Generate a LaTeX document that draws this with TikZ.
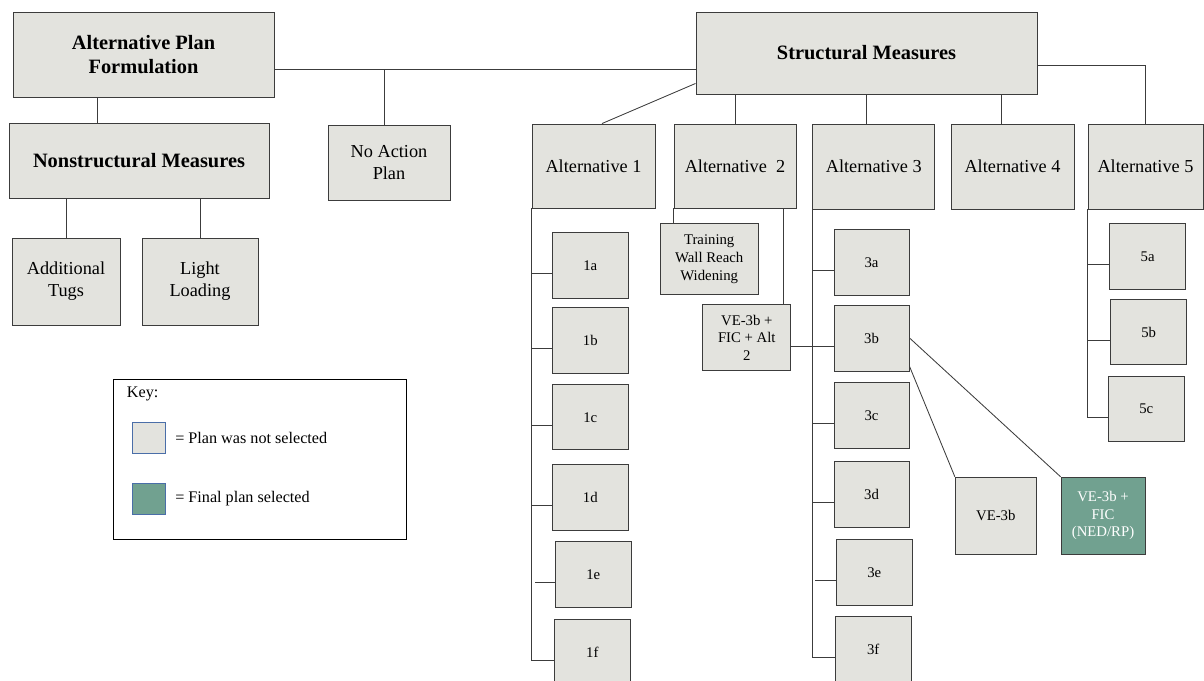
\documentclass[tikz,border=0pt]{standalone}
\usepackage{fontspec}
\setmainfont{Liberation Serif}
\usetikzlibrary{calc}

\definecolor{plangray}{RGB}{227,227,222}
\definecolor{plangreen}{RGB}{113,161,144}
\definecolor{edge}{RGB}{60,60,60}
\definecolor{keyblue}{RGB}{74,110,168}

\begin{document}
\begin{tikzpicture}[x=0.025cm, y=-0.025cm,
	sz/.style 2 args={minimum width=#1*0.025cm, minimum height=#2*0.025cm},
	plan/.style={draw=edge, fill=plangray, line width=0.65pt, inner sep=1pt, align=center, font=\fontsize{13}{15.5}\selectfont},
	head/.style={plan, font=\fontsize{14.5}{17.5}\selectfont\bfseries},
	sub/.style={plan, font=\fontsize{10.5}{12.6}\selectfont},
	chosen/.style={sub, fill=plangreen, text=white},
	link/.style={draw=edge, line width=0.6pt},
	keytext/.style={anchor=west, inner sep=0pt, font=\fontsize{11.5}{13}\selectfont}]
	\useasboundingbox (0,0) rectangle (1204,681);
	\clip (0,0) rectangle (1204,681);

		\draw (143.5,54.5) node[head, sz={261}{85}] (apf) {Alternative Plan\\Formulation};
		\draw (866.5,53) node[head, sz={341}{82}] (sm) {Structural Measures};
		\draw (139,160.5) node[head, sz={260}{75}] (nsm) {Nonstructural Measures};
		\draw (389,162.5) node[plan, sz={122}{75}] (noact) {No Action\\Plan};
		\draw (66,281.5) node[plan, sz={108}{87}] (tugs) {Additional\\Tugs};
		\draw (200,281.5) node[plan, sz={116}{87}] (light) {Light\\Loading};

		\draw (593.5,166) node[plan, sz={123}{84}] (alt1) {Alternative 1};
		\draw (735,166) node[plan, sz={122}{84}] (alt2) {Alternative~~2};
		\draw (873.8,166.5) node[plan, sz={122}{85}] (alt3) {Alternative 3};
		\draw (1012.5,166.5) node[plan, sz={123}{85}] (alt4) {Alternative 4};
		\draw (1145.5,166.5) node[plan, sz={115}{85}] (alt5) {Alternative 5};

		\draw (590.3,265.5) node[sub, sz={76}{66}] (c1a) {1a};
		\draw (590.3,340.3) node[sub, sz={76}{66}] (c1b) {1b};
		\draw (590.3,417.3) node[sub, sz={76}{65}] (c1c) {1c};
		\draw (590.3,497.8) node[sub, sz={76}{66}] (c1d) {1d};
		\draw (593.3,574.7) node[sub, sz={76}{66}] (c1e) {1e};
		\draw (592.3,652) node[sub, sz={76}{66}] (c1f) {1f};

		\draw (709.2,259) node[sub, sz={98}{71}] (train) {Training\\Wall Reach\\Widening};
		\draw (746.8,337.8) node[sub, sz={88}{66}] (ve2) {VE-3b +\\FIC + Alt\\2};

		\draw (871.5,262.5) node[sub, sz={75}{66}] (c3a) {3a};
		\draw (871.6,338) node[sub, sz={75}{66}] (c3b) {3b};
		\draw (871.5,415.2) node[sub, sz={75}{66}] (c3c) {3c};
		\draw (871.5,494.8) node[sub, sz={75}{66}] (c3d) {3d};
		\draw (874.3,572.5) node[sub, sz={76}{66}] (c3e) {3e};
		\draw (873.2,649.8) node[sub, sz={76}{66}] (c3f) {3f};

		\draw (995.8,515.7) node[sub, sz={81}{77}] (ve3b) {VE-3b};
		\draw (1103,515.7) node[chosen, sz={84}{77}] (pick) {VE-3b +\\FIC\\(NED/RP)};

		\draw (1147.7,256.8) node[sub, sz={76}{66}] (c5a) {5a};
		\draw (1148.7,332.3) node[sub, sz={76}{65}] (c5b) {5b};
		\draw (1146.3,409) node[sub, sz={76}{65}] (c5c) {5c};

		\draw[link] ($(apf.east)+(0,14.5)$) coordinate (ja) -- (ja -| sm.west);
		\draw[link] ($(noact.north)+(-5,0)$) coordinate (jn) -- (jn |- ja);
		\draw[link] ($(apf.south west)+(85,0)$) coordinate (jf) -- (jf |- nsm.north);
		\draw[link] (tugs.north) -- (tugs.north |- nsm.south);
		\draw[link] (light.north) -- (light.north |- nsm.south);

		\draw[link] ($(sm.south west)+(0,-11)$) -- ($(alt1.north)+(8.5,0)$);
		\draw[link] (alt2.north) -- (alt2.north |- sm.south);
		\draw[link] (sm.south) -- (sm.south |- alt3.north);
		\draw[link] ($(alt4.north)+(-11,0)$) coordinate (j4) -- (j4 |- sm.south);
		\draw[link] ($(sm.east)+(0,12)$) -| (alt5.north);

		\draw[link] (alt1.south west) |- ($(c1f.west)+(0,8)$);
		\foreach \c in {a,b,c,d}
			\draw[link] ($(c1\c.west)+(0,8)$) coordinate (t) -- (t -| alt1.west);
		\draw[link] ($(c1e.west)+(0,8)$) coordinate (t) -- ($(t -| alt1.west)+(3,0)$);

		\draw[link] (alt2.south west) -- (alt2.south west |- train.north);
		\draw[link] ($(alt2.south east)+(-13,0)$) coordinate (j2) -- (j2 |- ve2.north);
		\draw[link] ($(ve2.east)+(0,8.5)$) coordinate (jv) -- (jv -| c3b.west);

		\draw[link] (alt3.south west) |- ($(c3f.west)+(0,8)$);
		\foreach \c in {a,c,d}
			\draw[link] ($(c3\c.west)+(0,8)$) coordinate (t) -- (t -| alt3.west);
		\draw[link] ($(c3e.west)+(0,8)$) coordinate (t) -- ($(t -| alt3.west)+(3,0)$);
		\draw[link] ($(c3b.south east)+(0,-5)$) -- (ve3b.north west);
		\draw[link] (c3b.east) -- (pick.north west);

		\draw[link] (alt5.south west) |- ($(c5c.west)+(0,8)$);
		\foreach \c in {a,b}
			\draw[link] ($(c5\c.west)+(0,8)$) coordinate (t) -- (t -| alt5.west);

		% key
		\draw (260,459.3) node[draw=black, line width=0.7pt, sz={293}{160}] (key) {};
		\draw (126.7,394) node[keytext] (keyname) {Key:};
		\draw (149,437.8) node[draw=keyblue, fill=plangray, line width=0.6pt, inner sep=0pt, sz={32.6}{31}] (swgray) {};
		\draw (149,498.7) node[draw=keyblue, fill=plangreen, line width=0.6pt, inner sep=0pt, sz={32.6}{31}] (swgreen) {};
		\draw (175,437.7) node[keytext] (txgray) {= Plan was not selected};
		\draw (175,498.3) node[keytext] (txgreen) {= Final plan selected};
	\end{tikzpicture}
\end{document}
